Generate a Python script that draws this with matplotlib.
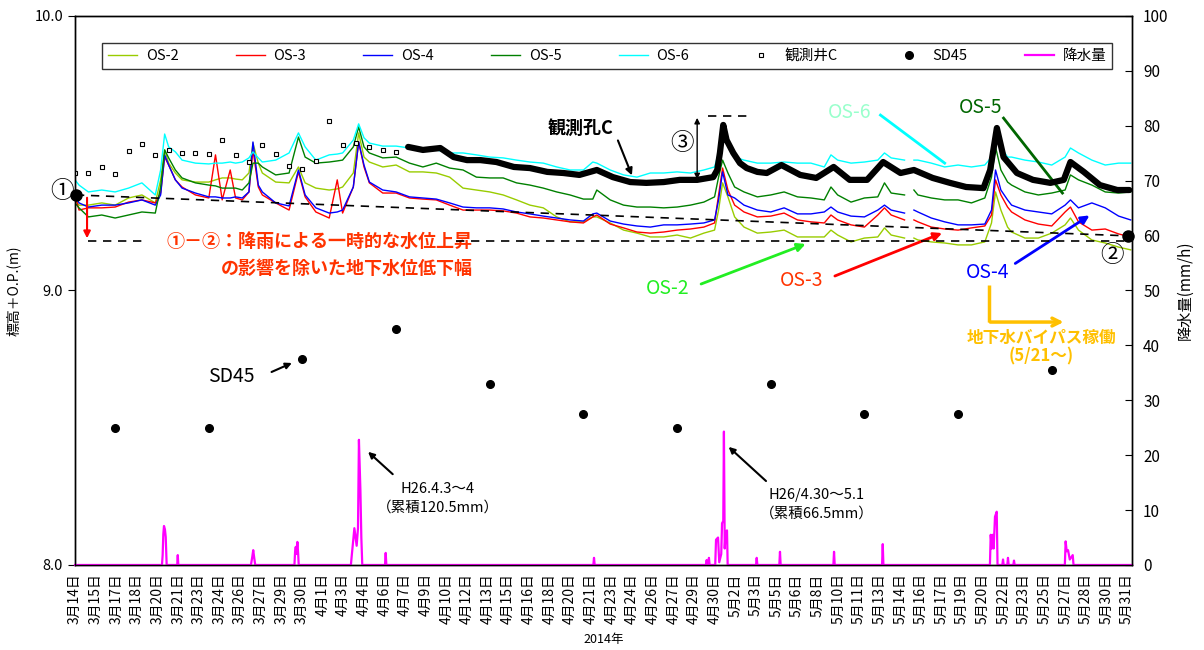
import numpy as np
import matplotlib
matplotlib.use("Agg")
import matplotlib.pyplot as plt

plt.rcParams['font.family'] = ['Noto Sans CJK JP', 'DejaVu Sans']

# 経過日数 (2014/3/14 0時 = 0)
t = [0, 0.3, 1, 2, 3, 4, 5, 6, 6.4, 6.7,
     7, 7.5, 8, 9, 10, 10.5, 11, 11.6, 12, 12.5,
     13, 13.3, 13.7, 14, 15, 16, 16.7, 17.2, 18, 19,
     19.6, 20, 20.8, 21.2, 21.6, 22, 23, 24, 25, 26,
     27, 28, 29, 30, 31, 32, 33, 34, 35, 36,
     37, 38, 38.7, 39, 40, 41, 42, 43, 44, 45,
     46, 47, 47.8, 48.1, 48.4, 48.8, 49.3, 50, 51, 52,
     53, 54, 55, 56, 56.5, 57, 58, 59, 60, 60.5,
     61, 62, 62.4, 62.7, 63, 64, 65, 66, 67, 68,
     68.5, 68.8, 69.2, 69.7, 70, 71, 72, 73, 74, 74.4,
     75, 76, 77, 78, 78.9]
nan = np.nan

os2 = [9.330, 9.311, 9.311, 9.319, 9.311, 9.337, 9.348, 9.319, 9.403, 9.512,
       9.464, 9.428, 9.403, 9.395, 9.395, 9.403, 9.410, 9.410, 9.406, 9.403,
       9.428, 9.537, 9.464, 9.428, 9.395, 9.392, 9.450, 9.392, 9.373, 9.366,
       9.370, 9.377, 9.428, 9.574, 9.486, 9.468, 9.450, 9.457, 9.432, 9.432,
       9.428, 9.413, 9.373, 9.366, 9.359, 9.348, 9.330, 9.311, 9.301, 9.268,
       9.250, 9.250, 9.268, 9.268, 9.246, 9.220, 9.209, 9.195, 9.195, 9.202,
       9.191, 9.209, 9.220, 9.293, 9.392, 9.341, 9.268, 9.231, 9.209, 9.213,
       9.220, 9.195, 9.195, 9.195, 9.220, 9.202, 9.177, 9.191, 9.195, 9.228,
       9.202, 9.191, nan, 9.191, 9.184, 9.177, 9.173, 9.166, 9.166, 9.177,
       9.246, 9.359, 9.293, 9.231, 9.213, 9.191, 9.191, 9.209, 9.239, 9.264,
       9.220, 9.184, 9.173, 9.158, 9.148]

os3 = [9.348, 9.293, 9.301, 9.301, 9.304, 9.322, 9.330, 9.319, 9.355, 9.486,
       9.457, 9.403, 9.377, 9.348, 9.337, 9.494, 9.330, 9.439, 9.337, 9.330,
       9.359, 9.512, 9.377, 9.348, 9.319, 9.293, 9.432, 9.341, 9.286, 9.264,
       9.403, 9.282, 9.377, 9.541, 9.450, 9.392, 9.355, 9.355, 9.337, 9.333,
       9.330, 9.311, 9.293, 9.293, 9.293, 9.290, 9.282, 9.268, 9.264, 9.257,
       9.250, 9.246, 9.268, 9.275, 9.242, 9.228, 9.213, 9.209, 9.213, 9.220,
       9.224, 9.231, 9.246, 9.348, 9.446, 9.366, 9.311, 9.286, 9.268, 9.271,
       9.282, 9.257, 9.250, 9.246, 9.275, 9.257, 9.239, 9.231, 9.275, 9.301,
       9.275, 9.257, nan, 9.257, 9.250, 9.231, 9.224, 9.220, 9.228, 9.235,
       9.275, 9.403, 9.348, 9.304, 9.286, 9.257, 9.242, 9.235, 9.286, 9.304,
       9.250, 9.220, 9.224, 9.206, 9.195]

os4 = [9.348, 9.319, 9.304, 9.311, 9.311, 9.319, 9.330, 9.311, 9.348, 9.494,
       9.457, 9.403, 9.373, 9.355, 9.341, 9.341, 9.337, 9.337, 9.341, 9.337,
       9.359, 9.541, 9.384, 9.359, 9.319, 9.308, 9.439, 9.348, 9.301, 9.282,
       9.286, 9.293, 9.377, 9.541, 9.457, 9.395, 9.366, 9.359, 9.341, 9.337,
       9.333, 9.319, 9.304, 9.301, 9.301, 9.297, 9.286, 9.279, 9.271, 9.264,
       9.257, 9.253, 9.279, 9.282, 9.253, 9.242, 9.235, 9.231, 9.239, 9.239,
       9.242, 9.246, 9.257, 9.330, 9.432, 9.348, 9.337, 9.311, 9.293, 9.286,
       9.301, 9.279, 9.279, 9.286, 9.304, 9.286, 9.271, 9.268, 9.293, 9.311,
       9.293, 9.282, nan, 9.293, 9.286, 9.264, 9.250, 9.239, 9.239, 9.242,
       9.293, 9.439, 9.366, 9.330, 9.311, 9.293, 9.286, 9.279, 9.311, 9.330,
       9.301, 9.319, 9.301, 9.271, 9.257]

os5 = [9.319, 9.301, 9.268, 9.275, 9.264, 9.275, 9.286, 9.282, 9.377, 9.512,
       9.483, 9.439, 9.410, 9.392, 9.384, 9.381, 9.373, 9.373, 9.373, 9.366,
       9.392, 9.464, 9.464, 9.450, 9.421, 9.428, 9.559, 9.486, 9.464, 9.468,
       9.472, 9.475, 9.523, 9.596, 9.523, 9.501, 9.483, 9.486, 9.464, 9.450,
       9.464, 9.446, 9.439, 9.413, 9.410, 9.410, 9.392, 9.384, 9.373, 9.359,
       9.348, 9.333, 9.333, 9.366, 9.330, 9.311, 9.304, 9.304, 9.301, 9.304,
       9.311, 9.322, 9.341, 9.413, 9.475, 9.428, 9.377, 9.359, 9.341, 9.348,
       9.359, 9.341, 9.337, 9.330, 9.377, 9.348, 9.322, 9.337, 9.341, 9.392,
       9.355, 9.348, nan, 9.366, 9.348, 9.337, 9.330, 9.330, 9.319, 9.337,
       9.413, 9.523, 9.439, 9.395, 9.384, 9.359, 9.348, 9.355, 9.366, 9.421,
       9.403, 9.384, 9.359, 9.355, 9.359]

os6 = [9.403, 9.384, 9.359, 9.366, 9.359, 9.373, 9.392, 9.348, 9.439, 9.570,
       9.523, 9.505, 9.475, 9.464, 9.461, 9.464, 9.464, 9.468, 9.464, 9.468,
       9.483, 9.505, 9.483, 9.468, 9.475, 9.501, 9.574, 9.523, 9.475, 9.494,
       9.497, 9.501, 9.548, 9.607, 9.556, 9.537, 9.526, 9.526, 9.519, 9.512,
       9.512, 9.501, 9.501, 9.494, 9.486, 9.483, 9.475, 9.468, 9.464, 9.450,
       9.439, 9.439, 9.468, 9.464, 9.439, 9.421, 9.413, 9.428, 9.428, 9.432,
       9.428, 9.439, 9.450, 9.501, 9.585, 9.537, 9.486, 9.475, 9.464, 9.464,
       9.468, 9.464, 9.464, 9.450, 9.494, 9.475, 9.464, 9.468, 9.475, 9.501,
       9.483, 9.475, nan, 9.475, 9.475, 9.464, 9.450, 9.457, 9.450, 9.457,
       9.486, 9.596, 9.523, 9.486, 9.486, 9.475, 9.468, 9.457, 9.486, 9.519,
       9.501, 9.475, 9.457, 9.464, 9.464]

# 観測井C 日毎 (3/14-4/7)
wellc_day = list(range(25))
wellc_val = [9.429, 9.427, 9.450, 9.423, 9.509, 9.535, 9.494, 9.510, 9.501, 9.501,
             9.498, 9.548, 9.495, 9.469, 9.531, 9.498, 9.455, 9.444, 9.473, 9.619,
             9.531, 9.538, 9.523, 9.512, 9.505]
# 観測井C 連続 (4/7以降)
wellc_t = [24.9, 26.0, 27.3, 28.3, 29.3, 30.3, 31.5, 32.8, 34.0, 35.3,
           36.5, 37.7, 39.0, 40.2, 41.5, 42.7, 44.0, 45.2, 46.5, 47.7,
           48.0, 48.2, 48.45, 48.7, 49.2, 49.7, 50.2, 51.0, 51.7, 52.8,
           54.2, 55.4, 56.7, 57.9, 59.2, 60.4, 61.7, 62.7, 64.1, 65.4,
           66.6, 67.9, 68.4, 68.9, 69.4, 70.4, 71.6, 72.9, 73.9, 74.4,
           75.4, 76.6, 77.9, 78.8]
wellc_cont = [9.523, 9.512, 9.519, 9.486, 9.475, 9.475, 9.468, 9.450, 9.446, 9.432,
              9.428, 9.421, 9.439, 9.413, 9.395, 9.392, 9.395, 9.403, 9.403, 9.413,
              9.439, 9.501, 9.603, 9.548, 9.501, 9.464, 9.446, 9.432, 9.428, 9.457,
              9.421, 9.410, 9.450, 9.403, 9.403, 9.468, 9.428, 9.439, 9.410, 9.392,
              9.377, 9.373, 9.439, 9.592, 9.486, 9.428, 9.403, 9.392, 9.403, 9.468,
              9.432, 9.384, 9.366, 9.366]

# SD45
sd45_t = [3, 10, 17, 24, 31, 38, 45, 52, 59, 66, 73]
sd45_val = [8.50, 8.50, 8.75, 8.86, 8.66, 8.55, 8.50, 8.66, 8.55, 8.55, 8.71]

# 降水量 (mm/h)
rain_t = [0, 6.50, 6.55, 6.60, 6.65, 6.72, 6.78, 6.85, 7.64, 7.68,
          7.72, 13.15, 13.25, 13.32, 13.40, 13.47, 16.40, 16.45, 16.50, 16.55,
          16.62, 16.68, 16.72, 20.62, 20.68, 20.88, 21.05, 21.15, 21.22, 21.33,
          21.40, 21.47, 23.17, 23.22, 23.27, 38.74, 38.79, 38.84, 47.15, 47.21,
          47.27, 47.33, 47.38, 47.43, 47.85, 47.91, 48.06, 48.15, 48.30, 48.36,
          48.45, 48.50, 48.56, 48.63, 48.73, 48.78, 50.90, 50.95, 51.00, 52.64,
          52.69, 52.74, 56.68, 56.73, 56.78, 60.32, 60.37, 60.42, 68.38, 68.44,
          68.52, 68.59, 68.66, 68.76, 68.89, 68.95, 69.31, 69.36, 69.41, 69.68,
          69.73, 69.78, 70.13, 70.18, 70.23, 73.98, 74.04, 74.12, 74.22, 74.35,
          74.57, 74.63, 79]
rain_mm = [0, 0, 1.8, 5.6, 7.1, 6.5, 5.1, 0, 0, 1.8,
           0, 0, 1.5, 2.7, 1.2, 0, 0, 2.5, 3.3, 2.0,
           4.2, 2.0, 0, 0, 1.6, 6.7, 3.5, 6.7, 22.8, 13.7,
           5.0, 0, 0, 2.2, 0, 0, 1.3, 0, 0, 0.9,
           0, 0, 1.3, 0, 0, 4.6, 5.0, 0.5, 2.0, 7.6,
           8.0, 24.3, 3.0, 6.0, 6.3, 0, 0, 1.3, 0, 0,
           2.4, 0, 0, 2.4, 0, 0, 3.8, 0, 0, 5.5,
           3.0, 5.5, 3.0, 8.8, 9.7, 0, 0, 1.0, 0, 0,
           1.3, 0, 0, 0.8, 0, 0, 4.3, 2.5, 2.7, 1.0,
           1.8, 0, 0]

xlabels = ['3月14日', '3月15日', '3月17日', '3月18日', '3月20日', '3月21日', '3月23日',
           '3月24日', '3月26日', '3月27日', '3月29日', '3月30日', '4月1日', '4月3日',
           '4月4日', '4月6日', '4月7日', '4月9日', '4月10日', '4月12日', '4月13日',
           '4月15日', '4月16日', '4月18日', '4月20日', '4月21日', '4月23日', '4月24日',
           '4月26日', '4月27日', '4月29日', '4月30日', '5月2日', '5月3日', '5月5日',
           '5月6日', '5月8日', '5月10日', '5月11日', '5月13日', '5月14日', '5月16日',
           '5月17日', '5月19日', '5月20日', '5月22日', '5月23日', '5月25日', '5月27日',
           '5月28日', '5月30日', '5月31日']

fig = plt.figure(figsize=(12.04, 6.5), dpi=100)
ax = fig.add_axes([0.0623, 0.1308, 0.8779, 0.8446])

l2, = ax.plot(t, os2, color='#99cc00', lw=1.0, label='OS-2')
l3, = ax.plot(t, os3, color='#ff0000', lw=1.0, label='OS-3')
l4, = ax.plot(t, os4, color='#0000ff', lw=1.0, label='OS-4')
l5, = ax.plot(t, os5, color='#008000', lw=1.0, label='OS-5')
l6, = ax.plot(t, os6, color='#00ffff', lw=1.0, label='OS-6')
ax.plot(wellc_t, wellc_cont, color='black', lw=4.5, solid_capstyle='round', zorder=3)
lc, = ax.plot(wellc_day, wellc_val, ls='none', marker='s', ms=3.5, mfc='white',
              mec='black', mew=0.8, label='観測井C', zorder=3)
lsd, = ax.plot(sd45_t, sd45_val, ls='none', marker='o', ms=5.5, color='black',
               label='SD45', zorder=3)

ax.set_xlim(0, 79)
ax.set_ylim(8.0, 10.0)
ax.set_yticks([8.0, 9.0, 10.0])
ax.set_yticklabels(['8.0', '9.0', '10.0'], fontsize=10.5)
ax.set_xticks(np.arange(len(xlabels)) * 37 / 24)
ax.set_xticklabels(xlabels, rotation=90, fontsize=10)
ax.tick_params(axis='x', length=0, pad=6)
ax.tick_params(axis='y', direction='out', length=5)
ax.set_ylabel('標高＋O.P.(m)', fontsize=10, labelpad=10)
ax.set_xlabel('2014年', fontsize=9, labelpad=6)

ax2 = ax.twinx()
lr, = ax2.plot(rain_t, rain_mm, color='#ff00ff', lw=1.6, label='降水量', clip_on=False)
ax2.set_ylim(0, 100)
ax2.set_yticks(range(0, 101, 10))
ax2.tick_params(axis='y', direction='in', length=5, labelsize=11, pad=8)
ax2.set_ylabel('降水量(mm/h)', fontsize=11, labelpad=6)
for sp in list(ax.spines.values()) + list(ax2.spines.values()):
    sp.set_linewidth(1.0)

# 凡例
leg = fig.legend(handles=[l2, l3, l4, l5, l6, lc, lsd, lr], loc='lower left',
                 bbox_to_anchor=(0.0847, 0.894, 0.839, 0.061), mode='expand',
                 ncol=8, fontsize=10.5, frameon=True, fancybox=False,
                 borderaxespad=0, handlelength=2.0, handletextpad=0.6)
leg.get_frame().set_edgecolor('black')
leg.get_frame().set_linewidth(1.0)

# 注釈 (左軸の座標)
ax.plot([0.07, 78.7], [9.348, 9.199], color='black', ls=(0, (5, 4)), lw=1.2, zorder=4)
ax.plot([0.97, 5.3], [9.18, 9.18], color='black', ls=(0, (5, 4)), lw=1.2, zorder=4)
ax.plot([28.5, 78.5], [9.18, 9.18], color='black', ls=(0, (5, 4)), lw=1.2, zorder=4)
ax.plot([0.07], [9.348], 'o', color='black', ms=8, clip_on=False, zorder=5)
ax.plot([78.7], [9.199], 'o', color='black', ms=8, clip_on=False, zorder=5)
ax.text(-0.97, 9.359, '①', fontsize=17, ha='center', va='center')
ax.text(77.5, 9.128, '②', fontsize=17, ha='center', va='center')
ax.annotate('', xy=(0.9, 9.18), xytext=(0.9, 9.348),
            arrowprops=dict(arrowstyle='-|>', color='red', lw=1.5, mutation_scale=10))
ax.text(29.7, 9.177, '①－②：降雨による一時的な水位上昇', color='#ff3300', fontsize=13,
        fontweight='bold', ha='right', va='center')
ax.text(29.7, 9.082, 'の影響を除いた地下水位低下幅', color='#ff3300', fontsize=13,
        fontweight='bold', ha='right', va='center')

ax.text(37.8, 9.592, '観測孔C', fontsize=13, fontweight='bold', ha='center', va='center')
ax.annotate('', xy=(41.7, 9.410), xytext=(40.5, 9.556),
            arrowprops=dict(arrowstyle='-|>', color='black', lw=1.5, mutation_scale=10))
ax.text(45.4, 9.537, '③', fontsize=17, ha='center', va='center')
ax.annotate('', xy=(46.5, 9.639), xytext=(46.5, 9.395),
            arrowprops=dict(arrowstyle='<|-|>', color='black', lw=1.0, mutation_scale=8))
ax.plot([47.3, 50.6], [9.636, 9.636], color='black', ls=(0, (5, 4)), lw=1.2)

ax.text(57.9, 9.647, 'OS-6', color='#99ffcc', fontsize=14, ha='center', va='center')
ax.plot([60.2, 65.0], [9.639, 9.464], color='#00ffff', lw=2)
ax.text(67.7, 9.665, 'OS-5', color='#006600', fontsize=14, ha='center', va='center')
ax.plot([69.4, 73.8], [9.628, 9.355], color='#006600', lw=2)
ax.text(44.3, 9.009, 'OS-2', color='#22ee22', fontsize=14, ha='center', va='center')
ax.annotate('', xy=(54.8, 9.173), xytext=(46.6, 9.020),
            arrowprops=dict(arrowstyle='-|>', color='#22ee22', lw=2, mutation_scale=12))
ax.text(54.3, 9.035, 'OS-3', color='#ff3300', fontsize=14, ha='center', va='center')
ax.annotate('', xy=(65.0, 9.213), xytext=(56.6, 9.049),
            arrowprops=dict(arrowstyle='-|>', color='red', lw=2, mutation_scale=12))
ax.text(68.2, 9.067, 'OS-4', color='#0000ff', fontsize=14, ha='center', va='center')
ax.annotate('', xy=(76.0, 9.279), xytext=(70.1, 9.093),
            arrowprops=dict(arrowstyle='-|>', color='#0000ff', lw=2, mutation_scale=12))

ax.plot([68.3, 68.3], [9.020, 8.885], color='#ffc000', lw=2.5, solid_capstyle='butt')
ax.annotate('', xy=(74.1, 8.885), xytext=(68.2, 8.885),
            arrowprops=dict(arrowstyle='->', color='#ffc000', lw=2.5, mutation_scale=14))
ax.text(72.2, 8.827, '地下水バイパス稼働', color='#ffc000', fontsize=12,
        fontweight='bold', ha='center', va='center')
ax.text(72.2, 8.758, '(5/21～)', color='#ffc000', fontsize=12,
        fontweight='bold', ha='center', va='center')

ax.text(11.66, 8.685, 'SD45', fontsize=14, ha='center', va='center')
ax.annotate('', xy=(16.4, 8.740), xytext=(14.5, 8.699),
            arrowprops=dict(arrowstyle='-|>', color='black', lw=1.5, mutation_scale=9))
ax.text(27.1, 8.277, 'H26.4.3～4', fontsize=10.5, ha='center', va='center')
ax.text(27.1, 8.208, '（累積120.5mm）', fontsize=10.5, ha='center', va='center')
ax.annotate('', xy=(21.75, 8.419), xytext=(23.9, 8.324),
            arrowprops=dict(arrowstyle='-|>', color='black', lw=1.5, mutation_scale=9))
ax.text(55.45, 8.255, 'H26/4.30～5.1', fontsize=10.5, ha='center', va='center')
ax.text(55.45, 8.189, '（累積66.5mm）', fontsize=10.5, ha='center', va='center')
ax.annotate('', xy=(48.7, 8.437), xytext=(51.8, 8.299),
            arrowprops=dict(arrowstyle='-|>', color='black', lw=1.5, mutation_scale=9))

fig.savefig('out.png', dpi=100)
